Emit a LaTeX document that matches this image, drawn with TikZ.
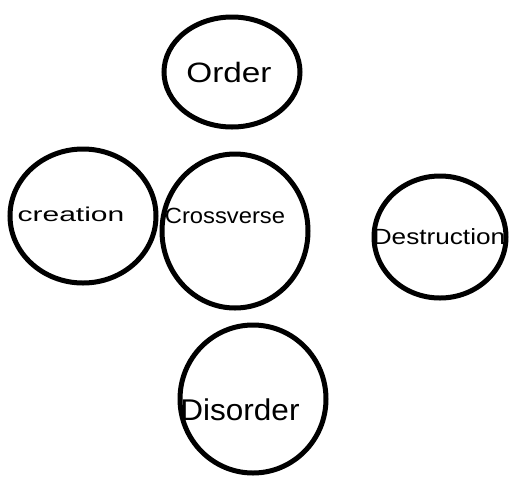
\documentclass[tikz,border=0pt]{standalone}
\usepackage{fontspec}
\setmainfont{Liberation Sans}
\begin{document}
\begin{tikzpicture}[x=1pt,y=-1pt,
  blob/.style={draw=black,line width=5pt},
  lbl/.style={inner sep=0pt,text=black}]
\useasboundingbox (0,0) rectangle (509,491);
\fill[white] (0,0) rectangle (509,491);
% circles
\draw[blob] (232,72) ellipse [x radius=68,y radius=55];
\draw[blob] (83,216) ellipse [x radius=73,y radius=67];
\draw[blob] (235,231) ellipse [x radius=73,y radius=77];
\draw[blob] (440,237) ellipse [x radius=66,y radius=61];
\draw[blob] (253,399) ellipse [x radius=73,y radius=74];
% labels
\node[lbl] (order) at (229,72) {\scalebox{1.19}[1]{\fontsize{28}{30}\selectfont Order}};
\node[lbl] (creation) at (71,214) {\scalebox{1.5}[1]{\fontsize{20}{24}\selectfont creation}};
\node[lbl] (cross) at (225,216) {\scalebox{1.08}[1]{\fontsize{22}{26}\selectfont Crossverse}};
\node[lbl] (destr) at (439,237) {\scalebox{1.19}[1]{\fontsize{22}{26}\selectfont Destruction}};
\node[lbl] (disorder) at (240,410) {\scalebox{1.05}[1]{\fontsize{30}{34}\selectfont Disorder}};
\end{tikzpicture}
\end{document}
